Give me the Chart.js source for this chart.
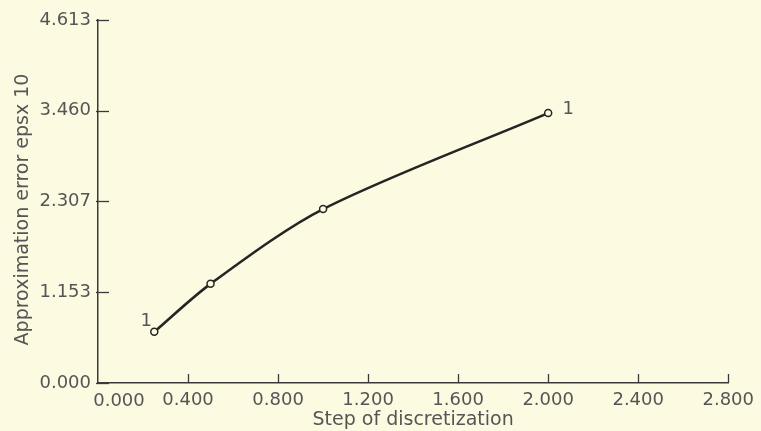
<!DOCTYPE html>
<html><head><meta charset="utf-8">
<script src="https://cdn.jsdelivr.net/npm/chart.js@4/dist/chart.umd.min.js"></script>
<style>html,body{margin:0;padding:0;background:#fcfbe2;}#wrap{width:761px;height:431px;}</style>
</head><body><div id="wrap"><canvas id="c" width="761" height="431"></canvas></div>
<script>
const stepValues = [0.25, 0.5, 1.0, 2.0];
const errorValues = [0.65, 1.26, 2.21, 3.43];
const xTickValues = [0, 0.4, 0.8, 1.2, 1.6, 2.0, 2.4, 2.8];
const yTickValues = [0, 1.153, 2.307, 3.460, 4.613];
const pointLabels = ['1', '', '', '1'];
const xTitle = 'Step of discretization';
const yTitle = 'Approximation error epsx 10';

const FONT = '"DejaVu Sans", sans-serif';
const TXT = '#555555';
const AX = '#3a3a3a';

const decor = {
  id: 'decor',
  afterDraw(chart) {
    const ctx = chart.ctx, xs = chart.scales.x, ys = chart.scales.y, ca = chart.chartArea;
    ctx.save();
    ctx.strokeStyle = AX; ctx.lineWidth = 1.3;
    yTickValues.forEach(v => {
      const py = Math.round(ys.getPixelForValue(v)) + 0.5;
      ctx.beginPath(); ctx.moveTo(ca.left - 2, py); ctx.lineTo(ca.left + 11, py); ctx.stroke();
    });
    xTickValues.forEach((v, i) => {
      if (i === 0) return;
      const px = Math.round(xs.getPixelForValue(v)) + 0.5;
      ctx.beginPath(); ctx.moveTo(px, ca.bottom); ctx.lineTo(px, ca.bottom - 9); ctx.stroke();
    });
    ctx.fillStyle = TXT;
    ctx.font = '18px ' + FONT;
    ctx.textAlign = 'center'; ctx.textBaseline = 'middle';
    ctx.fillText(xTickValues[0].toFixed(3), xs.getPixelForValue(xTickValues[0]) + 21, ca.bottom + 18);
    const meta = chart.getDatasetMeta(0);
    const offs = [[-8, -11], [0, 0], [0, 0], [20, -4]];
    meta.data.forEach((pt, i) => {
      if (!pointLabels[i]) return;
      ctx.fillText(pointLabels[i], pt.x + offs[i][0], pt.y + offs[i][1]);
    });
    ctx.font = '19px ' + FONT;
    ctx.translate(23, (ca.top + ca.bottom) / 2 + 8);
    ctx.rotate(-Math.PI / 2);
    ctx.fillText(yTitle, 0, 0);
    ctx.restore();
  }
};

new Chart(document.getElementById('c'), {
  type: 'line',
  data: {
    datasets: [{
      data: stepValues.map((s, i) => ({x: s, y: errorValues[i]})),
      borderColor: '#252525',
      borderWidth: 2.6,
      tension: 0.3,
      pointRadius: 3.5,
      pointBackgroundColor: '#fcfbe2',
      pointBorderColor: '#252525',
      pointBorderWidth: 1.5,
      fill: false
    }]
  },
  options: {
    responsive: false,
    devicePixelRatio: 1,
    animation: false,
    events: [],
    layout: {padding: {left: 0, right: 31, top: 20, bottom: 0}},
    plugins: {legend: {display: false}, tooltip: {enabled: false}},
    scales: {
      x: {
        type: 'linear', min: 0, max: 2.8,
        afterBuildTicks: s => { s.ticks = xTickValues.map(v => ({value: v})); },
        afterFit: s => { s.height = 48; },
        grid: {display: false, drawTicks: false},
        border: {display: true, color: AX, width: 1.5},
        ticks: {
          padding: 7, color: TXT, font: {family: FONT, size: 18},
          maxRotation: 0, autoSkip: false,
          callback: (v, i) => i === 0 ? '' : Number(v).toFixed(3)
        },
        title: {display: true, text: xTitle, color: TXT, font: {family: FONT, size: 19}, padding: {top: 0, bottom: 0}}
      },
      y: {
        type: 'linear', min: 0, max: 4.613,
        afterBuildTicks: s => { s.ticks = yTickValues.map(v => ({value: v})); },
        afterFit: s => { s.width = 98; },
        grid: {display: false, drawTicks: false},
        border: {display: true, color: AX, width: 1.5},
        ticks: {
          padding: 7, color: TXT, font: {family: FONT, size: 18}, autoSkip: false,
          callback: v => Number(v).toFixed(3)
        },
        title: {display: false, text: yTitle}
      }
    }
  },
  plugins: [decor]
});
</script>
</body></html>
